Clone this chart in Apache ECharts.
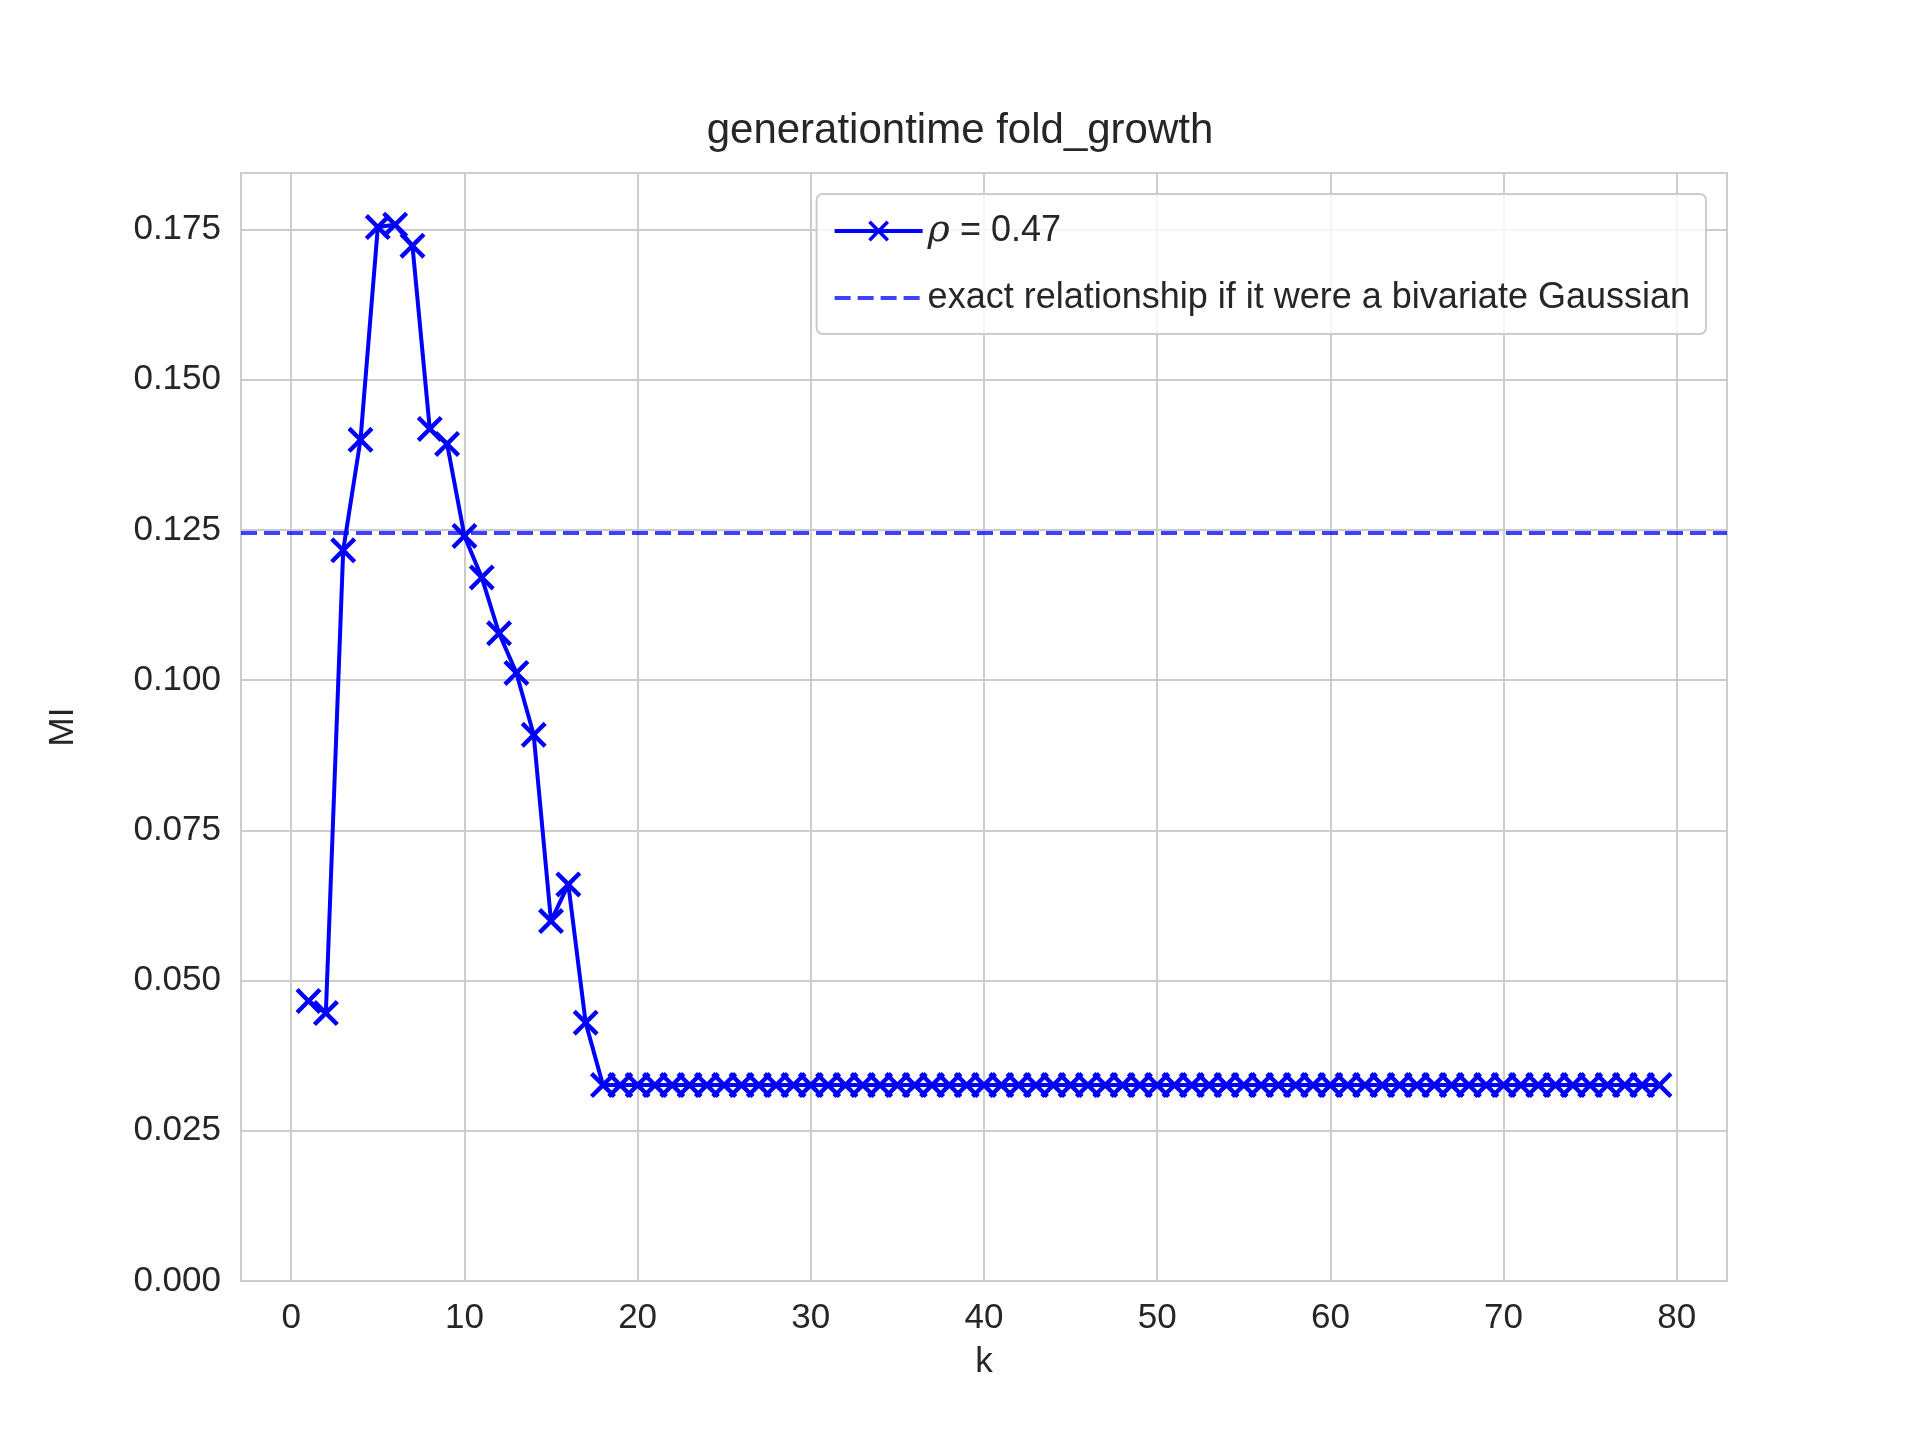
<!DOCTYPE html>
<html>
<head>
<meta charset="utf-8">
<script src="https://cdn.jsdelivr.net/npm/echarts@6/dist/echarts.min.js"></script>
<style>body{margin:0;background:#fff}#main{width:1920px;height:1440px}</style>
</head>
<body>
<div id="main"></div>
<script>
// k values and estimated mutual information
var kValues = [];
for (var i = 1; i <= 79; i++) kValues.push(i);
var miHead = [0.0466, 0.0446, 0.1216, 0.1400, 0.1754, 0.1758, 0.1723, 0.1418, 0.1393,
              0.1240, 0.1171, 0.1078, 0.1012, 0.0909, 0.0599, 0.0660, 0.0430];
var miTail = 0.0326; // k >= 18 is flat
var gaussianMI = 0.1245;
var xTicks = [0, 10, 20, 30, 40, 50, 60, 70, 80];
var yTicks = [0, 0.025, 0.05, 0.075, 0.1, 0.125, 0.15, 0.175];
var xMin = -2.9, xMax = 82.9;

var miData = kValues.map(function (k) {
    return [k, k <= miHead.length ? miHead[k - 1] : miTail];
});

var cross = 'path://M0,1.2L1.2,0L5,3.8L8.8,0L10,1.2L6.2,5L10,8.8L8.8,10L5,6.2L1.2,10L0,8.8L3.8,5Z';
var font = 'Liberation Sans';
var gl = 241, gr = 193, gt = 173, gb = 159;

var chart = echarts.init(document.getElementById('main'));
chart.setOption({
    animation: false,
    textStyle: { fontFamily: font },
    title: {
        text: 'generationtime fold_growth', left: 'center', top: 105,
        textStyle: { fontFamily: font, fontSize: 42, fontWeight: 'normal', color: '#262626' }
    },
    grid: { left: gl, right: gr, top: gt, bottom: gb },
    legend: {
        right: 214, top: 194, orient: 'vertical',
        itemWidth: 88, itemHeight: 26, itemGap: 30,
        padding: [18, 16, 18, 16],
        borderColor: '#cccccc', borderWidth: 2, borderRadius: 6,
        backgroundColor: 'rgba(255,255,255,0.8)',
        textStyle: {
            fontSize: 36, color: '#262626', fontFamily: font,
            rich: { r: { fontStyle: 'italic', fontSize: 38, fontFamily: 'DejaVu Serif', color: '#262626' } }
        },
        formatter: function (name) { return name === 'rho' ? '{r|ρ} = 0.47' : name; },
        data: [
            { name: 'rho', lineStyle: { width: 4 } },
            { name: 'exact relationship if it were a bivariate Gaussian',
              itemStyle: { opacity: 0 }, lineStyle: { width: 4 } }
        ]
    },
    xAxis: {
        type: 'value', min: xMin, max: xMax,
        name: 'k', nameLocation: 'middle', nameGap: 64,
        nameTextStyle: { fontSize: 35, color: '#262626', fontFamily: font },
        axisLine: { show: false },
        axisTick: { show: false, customValues: xTicks },
        axisLabel: { customValues: xTicks, fontSize: 35, color: '#262626', margin: 20 },
        splitLine: { show: true, lineStyle: { color: '#cccccc', width: 2 } }
    },
    yAxis: {
        type: 'value', min: 0, max: 0.1844,
        name: 'MI', nameLocation: 'middle', nameGap: 160, nameRotate: 90,
        nameTextStyle: { fontSize: 35, color: '#262626', fontFamily: font },
        axisLine: { show: false },
        axisTick: { show: false, customValues: yTicks },
        axisLabel: {
            customValues: yTicks, fontSize: 35, color: '#262626', margin: 20,
            formatter: function (v) { return v.toFixed(3); }
        },
        splitLine: { show: true, lineStyle: { color: '#cccccc', width: 2 } }
    },
    graphic: [{
        type: 'rect', shape: { x: gl, y: gt, width: 1920 - gl - gr, height: 1440 - gt - gb },
        style: { fill: 'none', stroke: '#cccccc', lineWidth: 2 }, silent: true, z: -1
    }, {
        type: 'line', shape: { x1: gl, y1: 1440 - gb, x2: 1920 - gr, y2: 1440 - gb },
        style: { stroke: '#000', lineWidth: 2 }, silent: true
    }],
    series: [{
        name: 'rho', type: 'line', data: miData,
        symbol: cross, symbolSize: 26, showAllSymbol: true,
        lineStyle: { color: '#0000ff', width: 4 },
        itemStyle: { color: '#0000ff' }, z: 3
    }, {
        name: 'exact relationship if it were a bivariate Gaussian', type: 'line',
        data: [[xMin, gaussianMI], [xMax, gaussianMI]],
        symbol: 'none',
        lineStyle: { color: 'rgba(0,0,255,0.75)', width: 4, type: [16, 7] },
        itemStyle: { color: 'rgba(0,0,255,0.75)' }, z: 2
    }]
});
</script>
</body>
</html>
